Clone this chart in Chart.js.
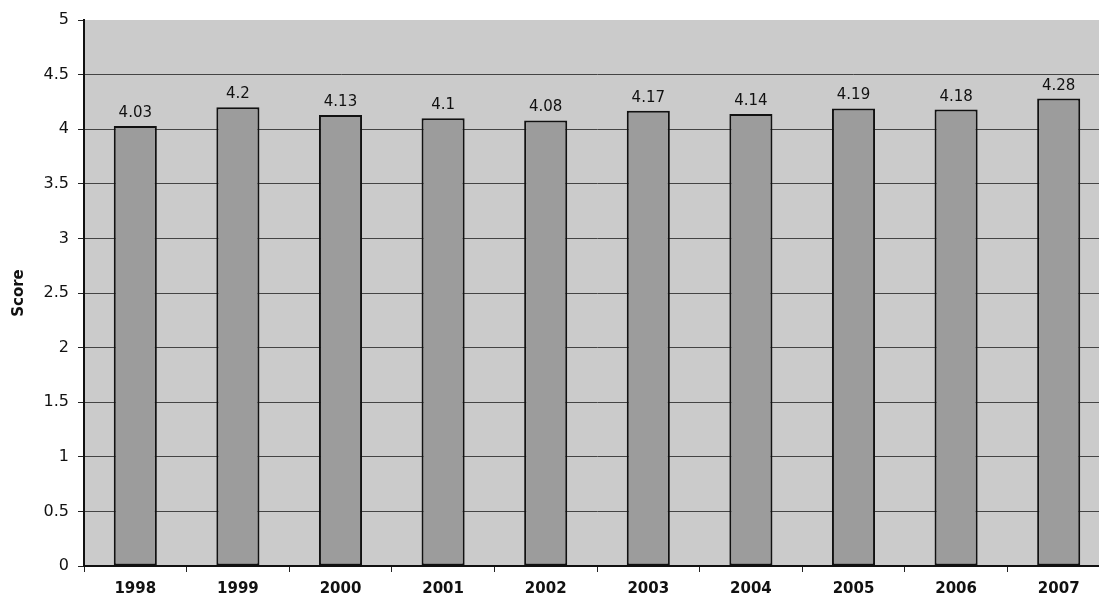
<!DOCTYPE html>
<html>
<head>
<meta charset="utf-8">
<script src="https://cdn.jsdelivr.net/npm/chart.js@4/dist/chart.umd.min.js"></script>
<style>
  html, body { margin: 0; padding: 0; background: #fff; overflow: hidden; }
  #wrap { width: 1099px; height: 606px; overflow: hidden; }
</style>
</head>
<body>
<div id="wrap"><canvas id="myChart" width="1112" height="606"></canvas></div>
<script>
const years = ['1998', '1999', '2000', '2001', '2002', '2003', '2004', '2005', '2006', '2007'];
const scores = [4.03, 4.2, 4.13, 4.1, 4.08, 4.17, 4.14, 4.19, 4.18, 4.28];
const yTicks = [0, 0.5, 1, 1.5, 2, 2.5, 3, 3.5, 4, 4.5, 5];

const FONT = '"DejaVu Sans", Verdana, sans-serif';

// grey plot background behind the bars
const plotBg = {
	id: 'plotBg',
	beforeDraw(chart) {
		const { ctx, chartArea: a } = chart;
		ctx.save();
		ctx.fillStyle = '#cbcbcb';
		ctx.fillRect(a.left, a.top, a.right - a.left, a.bottom - a.top);
		ctx.restore();
	}
};

// score written above each bar
const barValues = {
	id: 'barValues',
	afterDatasetsDraw(chart) {
		const { ctx } = chart;
		const meta = chart.getDatasetMeta(0);
		ctx.save();
		ctx.font = '15px ' + FONT;
		ctx.fillStyle = '#111';
		ctx.textAlign = 'center';
		ctx.textBaseline = 'alphabetic';
		meta.data.forEach((bar, i) => {
			ctx.fillText(String(scores[i]), bar.x, bar.y - 9);
		});
		ctx.restore();
	}
};

const ctx = document.getElementById('myChart').getContext('2d');
new Chart(ctx, {
	type: 'bar',
	data: {
		labels: years,
		datasets: [{
			data: scores,
			backgroundColor: '#9c9c9c',
			borderColor: '#111',
			borderWidth: 2,
			borderSkipped: false,
			barPercentage: 0.42,
			categoryPercentage: 1
		}]
	},
	options: {
		responsive: false,
		animation: false,
		layout: { padding: { left: 0, top: 20, right: 2, bottom: 0 } },
		plugins: {
			legend: { display: false },
			tooltip: { enabled: false }
		},
		scales: {
			x: {
				offset: true,
				grid: {
					offset: true,
					drawOnChartArea: false,
					tickLength: 6,
					color: '#222'
				},
				border: { color: '#111', width: 2 },
				ticks: {
					color: '#111',
					padding: 8,
					maxRotation: 0,
					font: { family: FONT, size: 15, weight: 'bold' }
				},
				afterFit(scale) { scale.height = 40; }
			},
			y: {
				min: 0,
				max: 5,
				afterBuildTicks(scale) {
					scale.ticks = yTicks.map(v => ({ value: v }));
				},
				grid: {
					color: (c) => c.tick && c.tick.value === 5 ? 'rgba(0,0,0,0)' : '#444',
					lineWidth: 1,
					tickLength: 6,
					tickColor: '#222'
				},
				border: { color: '#111', width: 2 },
				ticks: {
					color: '#111',
					padding: 9,
					callback: (v) => String(v),
					font: { family: FONT, size: 16 }
				},
				title: {
					display: true,
					text: 'Score',
					color: '#111',
					padding: { top: 10, bottom: 0 },
					font: { family: FONT, size: 15, weight: 'bold' }
				},
				afterFit(scale) { scale.width = 84; }
			}
		}
	},
	plugins: [plotBg, barValues]
});
</script>
</body>
</html>
